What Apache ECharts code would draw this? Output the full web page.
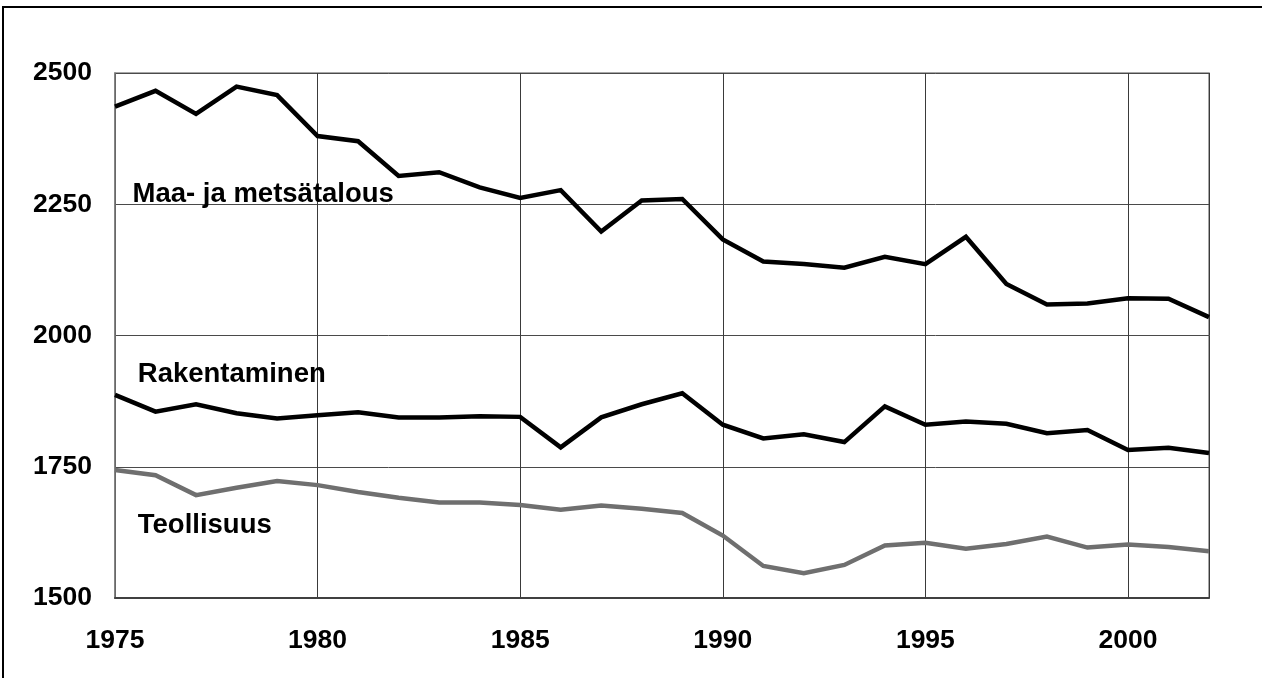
<!DOCTYPE html>
<html>
<head>
<meta charset="utf-8">
<script src="https://cdn.jsdelivr.net/npm/echarts@6/dist/echarts.min.js"></script>
<style>
html,body{margin:0;padding:0;background:#fff;}
#c{width:1262px;height:678px;}
</style>
</head>
<body>
<div id="c"></div>
<script>
var years = [1975,1976,1977,1978,1979,1980,1981,1982,1983,1984,1985,1986,1987,1988,1989,1990,1991,1992,1993,1994,1995,1996,1997,1998,1999,2000,2001,2002];
var maaJaMetsatalous = [2436,2466,2422,2474,2458,2380,2370,2304,2311,2282,2262,2277,2198,2257,2260,2183,2141,2136,2129,2150,2136,2188,2098,2059,2061,2071,2070,2035];
var rakentaminen = [1887,1855,1869,1852,1842,1848,1854,1844,1844,1846,1845,1787,1844,1869,1890,1830,1804,1812,1797,1865,1830,1836,1832,1814,1820,1782,1786,1776];
var teollisuus = [1744,1734,1696,1710,1723,1715,1702,1691,1682,1682,1677,1668,1676,1670,1662,1619,1561,1547,1563,1600,1605,1594,1603,1617,1596,1602,1597,1589];
var seriesNames = ['Maa- ja metsätalous','Rakentaminen','Teollisuus'];
var yTicks = {min:1500, max:2500, interval:250};
var xTicks = {min:1975, max:2002, interval:5};

function pairs(vals){ return years.map(function(y,i){ return [y, vals[i]]; }); }

var FONT = 'Liberation Sans, Arial, sans-serif';
function nameLabel(coord, name){
  return {
    symbol:'rect', symbolSize:[1,1], silent:true,
    itemStyle:{color:'rgba(0,0,0,0)'},
    label:{show:true, position:'right', distance:0, formatter:'{b}', color:'#000', fontFamily:FONT, fontWeight:'bold', fontSize:27.5},
    data:[{name:name, coord:coord}]
  };
}

var chart = echarts.init(document.getElementById('c'), null, {renderer:'canvas'});
var labelAnchors = [[1975.42, 2268], [1975.55, 1926], [1975.55, 1639]];
var colors = ['#000000','#000000','#6f6f6f'];
var datasets = [maaJaMetsatalous, rakentaminen, teollisuus];

var series = datasets.map(function(d, i){
  return {
    name: seriesNames[i], type:'line', data: pairs(d), symbol:'none', silent:true,
    lineStyle:{color:colors[i], width:4.5, join:'miter'},
    z: 5, markPoint: nameLabel(labelAnchors[i], seriesNames[i]), animation:false
  };
});

chart.setOption({
  animation:false,
  backgroundColor:'#fff',
  grid:{left:115, right:53, top:73, bottom:80, show:true, borderColor:'#8a8a8a', borderWidth:1.5},
  xAxis:{
    type:'value', min:xTicks.min, max:xTicks.max, interval:xTicks.interval,
    axisLine:{show:true, onZero:false, lineStyle:{color:'#404040', width:2}},
    axisTick:{show:false},
    axisLabel:{color:'#000', fontFamily:FONT, fontWeight:'bold', fontSize:26.5, margin:29,
      showMaxLabel:false, formatter:function(v){return String(v);}},
    splitLine:{show:true, lineStyle:{color:'#3a3a3a', width:1}}
  },
  yAxis:{
    type:'value', min:yTicks.min, max:yTicks.max, interval:yTicks.interval,
    axisLine:{show:true, lineStyle:{color:'#7a7a7a', width:1.5}},
    axisTick:{show:false},
    axisLabel:{color:'#000', fontFamily:FONT, fontWeight:'bold', fontSize:26.5, margin:23,
      padding:[5,0,0,0], formatter:function(v){return String(v);}},
    splitLine:{show:true, lineStyle:{color:'#4a4a4a', width:1}}
  },
  graphic:[{type:'rect', shape:{x:3, y:7, width:1400, height:800}, style:{fill:null, stroke:'#000', lineWidth:2}, silent:true, z:100}],
  series: series
});
</script>
</body>
</html>
